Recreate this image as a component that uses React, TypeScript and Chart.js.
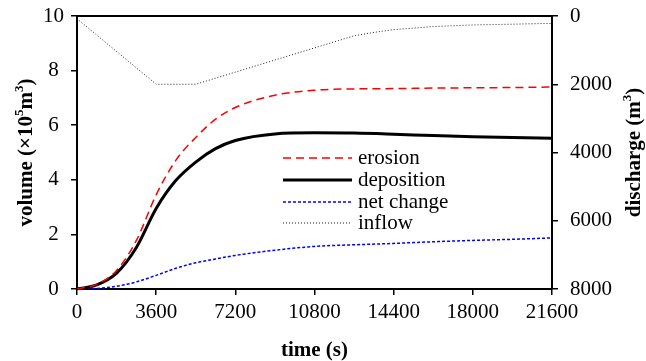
import React, { useEffect, useRef } from "react";
import { Chart, registerables } from "chart.js";
Chart.register(...registerables);

const timeSec = [0, 900, 1800, 2700, 3600, 4500, 5400, 6300, 7200, 9000, 10800, 12600, 14400, 16200, 18000, 19800, 21600];
const erosion = [0, 0.17, 0.68, 1.78, 3.45, 4.72, 5.55, 6.22, 6.65, 7.1, 7.28, 7.33, 7.34, 7.36, 7.37, 7.38, 7.4];
const deposition = [0, 0.15, 0.58, 1.52, 2.95, 3.98, 4.65, 5.14, 5.44, 5.68, 5.72, 5.71, 5.67, 5.62, 5.58, 5.55, 5.52];
const netChange = [0, 0.02, 0.1, 0.26, 0.5, 0.76, 0.96, 1.1, 1.23, 1.42, 1.56, 1.62, 1.67, 1.73, 1.78, 1.82, 1.87];
const inflowTime = [0, 3600, 5400, 12600, 13500, 14400, 16200, 18000, 19800, 21600];
const inflow = [80, 2000, 2000, 580, 480, 400, 310, 262, 240, 215];
const xTicks = [0, 3600, 7200, 10800, 14400, 18000, 21600];
const yTicks = [0, 2, 4, 6, 8, 10];
const y2Ticks = [0, 2000, 4000, 6000, 8000];

const FONT = "'Liberation Serif', 'Times New Roman', serif";

const pts = (xs: number[], ys: number[]) => xs.map((x, i) => ({ x, y: ys[i] }));

type Seg = { t: string; sup?: boolean };

function drawRich(ctx: CanvasRenderingContext2D, segs: Seg[], cx: number, cy: number, rot: number) {
  const base = `bold 21px ${FONT}`;
  const sup = `bold 13px ${FONT}`;
  let total = 0;
  for (const s of segs) {
    ctx.font = s.sup ? sup : base;
    total += ctx.measureText(s.t).width;
  }
  ctx.save();
  ctx.translate(cx, cy);
  ctx.rotate(rot);
  ctx.fillStyle = "#000";
  ctx.textBaseline = "middle";
  ctx.textAlign = "left";
  let x = -total / 2;
  for (const s of segs) {
    ctx.font = s.sup ? sup : base;
    ctx.fillText(s.t, x, s.sup ? -7 : 0);
    x += ctx.measureText(s.t).width;
  }
  ctx.restore();
}

const decorPlugin = {
  id: "decor",
  afterDraw(chart: any) {
    const { ctx, chartArea } = chart;
    const { left, right, top, bottom } = chartArea;
    ctx.save();
    ctx.strokeStyle = "#000";
    ctx.lineWidth = 2;
    ctx.beginPath();
    ctx.moveTo(left - 1, top);
    ctx.lineTo(right + 1, top);
    ctx.stroke();
    const rows = [158, 180, 202, 223];
    const ds = chart.data.datasets;
    ds.forEach((d: any, i: number) => {
      const y = rows[i];
      ctx.save();
      ctx.strokeStyle = d.borderColor;
      ctx.lineWidth = d.borderWidth;
      ctx.setLineDash(d.borderDash || []);
      ctx.beginPath();
      ctx.moveTo(283, y);
      ctx.lineTo(352, y);
      ctx.stroke();
      ctx.restore();
      ctx.fillStyle = "#000";
      ctx.font = `21px ${FONT}`;
      ctx.textBaseline = "middle";
      ctx.textAlign = "left";
      ctx.fillText(d.label, 358, y);
    });
    drawRich(ctx, [{ t: "volume (×10" }, { t: "5", sup: true }, { t: "m" }, { t: "3", sup: true }, { t: ")" }], 27, (top + bottom) / 2, -Math.PI / 2);
    drawRich(ctx, [{ t: "discharge (m" }, { t: "3", sup: true }, { t: ")" }], 635, (top + bottom) / 2, -Math.PI / 2);
    drawRich(ctx, [{ t: "time (s)" }], (left + right) / 2, 351, 0);
    ctx.restore();
  },
};

export default function App() {
  const ref = useRef<HTMLCanvasElement>(null);
  useEffect(() => {
    document.body.style.margin = "0";
    const tickFont = { family: FONT, size: 21 };
    const grid = { drawOnChartArea: false, drawTicks: true, tickLength: 6, color: "#000", lineWidth: 1.5 };
    const border = { display: true, color: "#000", width: 2 };
    const chart = new Chart(ref.current!, {
      type: "line",
      data: {
        datasets: [
          { label: "erosion", data: pts(timeSec, erosion), borderColor: "#ff0000", borderWidth: 1.5, borderDash: [8, 5], pointRadius: 0, cubicInterpolationMode: "monotone", yAxisID: "y", fill: false },
          { label: "deposition", data: pts(timeSec, deposition), borderColor: "#000000", borderWidth: 3, borderDash: [], pointRadius: 0, cubicInterpolationMode: "monotone", yAxisID: "y", fill: false },
          { label: "net change", data: pts(timeSec, netChange), borderColor: "#0000ff", borderWidth: 1.5, borderDash: [3, 2], pointRadius: 0, cubicInterpolationMode: "monotone", yAxisID: "y", fill: false },
          { label: "inflow", data: pts(inflowTime, inflow), borderColor: "#222222", borderWidth: 1, borderDash: [1, 2], pointRadius: 0, tension: 0, yAxisID: "y2", fill: false },
        ],
      },
      options: {
        responsive: false,
        animation: false,
        layout: { padding: { top: 16, left: 0, right: 0, bottom: 0 } },
        plugins: { legend: { display: false }, tooltip: { enabled: false } },
        scales: {
          x: {
            type: "linear",
            min: 0,
            max: 21600,
            afterBuildTicks: (s: any) => { s.ticks = xTicks.map((v) => ({ value: v })); },
            afterFit: (s: any) => { s.height = 72; s.paddingLeft = 0; s.paddingRight = 0; },
            ticks: { font: tickFont, color: "#000", padding: 5, maxRotation: 0, autoSkip: false, callback: (v: any) => String(v) },
            grid,
            border,
          },
          y: {
            position: "left",
            min: 0,
            max: 10,
            afterBuildTicks: (s: any) => { s.ticks = yTicks.map((v) => ({ value: v })); },
            afterFit: (s: any) => { s.width = 77; s.paddingTop = 0; s.paddingBottom = 0; },
            ticks: { font: tickFont, color: "#000", padding: 7, crossAlign: "center", callback: (v: any) => String(v) },
            grid,
            border,
          },
          y2: {
            position: "right",
            reverse: true,
            min: 0,
            max: 8000,
            afterBuildTicks: (s: any) => { s.ticks = y2Ticks.map((v) => ({ value: v })); },
            afterFit: (s: any) => { s.width = 94; s.paddingTop = 0; s.paddingBottom = 0; },
            ticks: { font: tickFont, color: "#000", padding: 12, callback: (v: any) => String(v) },
            grid,
            border,
          },
        },
      } as any,
      plugins: [decorPlugin],
    });
    return () => chart.destroy();
  }, []);
  return (
    <div style={{ width: 646, height: 361 }}>
      <canvas ref={ref} width={646} height={361} style={{ display: "block" }} />
    </div>
  );
}
